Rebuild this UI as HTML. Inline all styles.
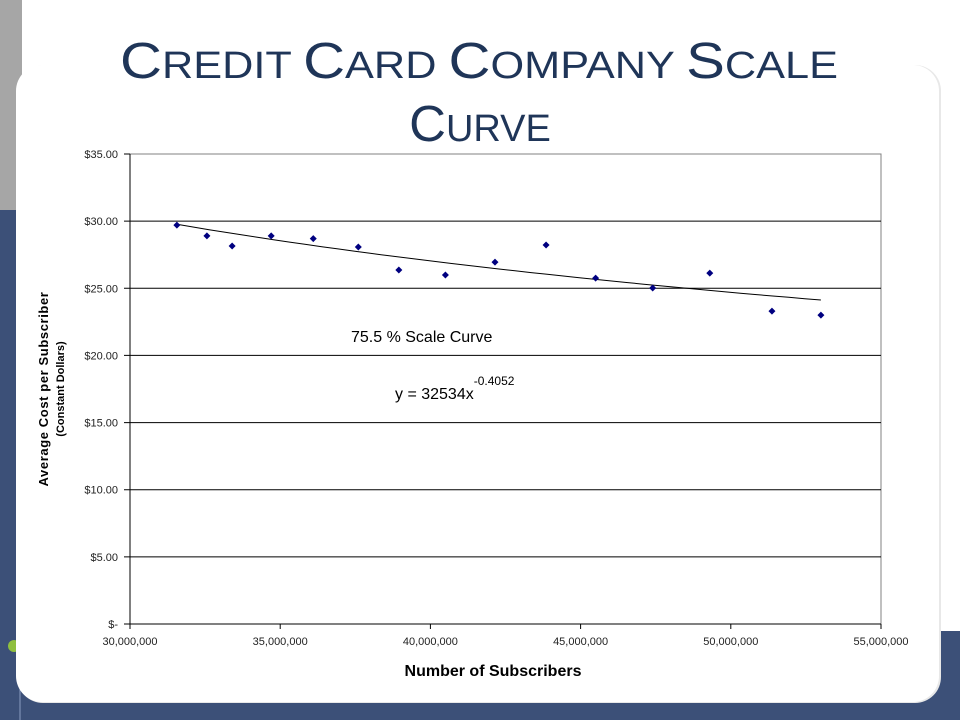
<!DOCTYPE html>
<html><head><meta charset="utf-8"><style>
html,body{margin:0;padding:0;width:960px;height:720px;overflow:hidden;background:#fff;font-family:"Liberation Sans",sans-serif;}
</style></head><body>
<svg width="960" height="720" xmlns="http://www.w3.org/2000/svg">
<rect x="0" y="0" width="22" height="210" fill="#a6a6a6"/>
<rect x="0" y="210" width="40" height="510" fill="#3c5078"/>
<rect x="0" y="631" width="960" height="89" fill="#3c5078"/>
<line x1="20" y1="630" x2="20" y2="720" stroke="#8a9cc0" stroke-width="1"/>
<circle cx="14" cy="646" r="6" fill="#8fbf3f"/>
<rect x="17" y="65" width="924" height="638" rx="26" fill="#e8e8e8"/>
<rect x="16" y="65" width="923" height="637" rx="26" fill="#fff"/>
<g fill="#1f3558" font-family="Liberation Sans, sans-serif" text-anchor="middle">
<text x="479" y="78" font-size="51" textLength="718" lengthAdjust="spacingAndGlyphs">C<tspan font-size="38">REDIT </tspan>C<tspan font-size="38">ARD  </tspan>C<tspan font-size="38">OMPANY </tspan>S<tspan font-size="38">CALE</tspan></text>
<text x="480" y="141" font-size="51">C<tspan font-size="38">URVE</tspan></text>
</g>
<g id="chart"></g>
<text x="351" y="342" font-size="16" fill="#000">75.5 % Scale Curve</text>
<text x="395" y="399" font-size="16" fill="#000">y = 32534x<tspan font-size="12" dy="-14">-0.4052</tspan></text>
<text x="493" y="676" font-size="16" font-weight="bold" text-anchor="middle" fill="#000">Number of Subscribers</text>
<g transform="translate(48,389) rotate(-90)" text-anchor="middle">
<text x="0" y="0" font-size="13" font-weight="bold" letter-spacing="0.6">Average Cost per Subscriber</text>
<text x="0" y="16" font-size="11" font-weight="bold">(Constant Dollars)</text>
</g>
</svg>
<script>
const xVals=[31.56,32.56,33.4,34.7,36.1,37.6,38.95,40.5,42.15,43.85,45.5,47.4,49.3,51.37,53.0];
const yVals=[29.7,28.9,28.15,28.9,28.7,28.07,26.36,25.99,26.95,28.22,25.76,25.02,26.13,23.3,23.0];
const yTicks=[0,5,10,15,20,25,30,35];
const yTickLabels=["$-","$5.00","$10.00","$15.00","$20.00","$25.00","$30.00","$35.00"];
const xTicks=[30,35,40,45,50,55];
const xTickLabels=["30,000,000","35,000,000","40,000,000","45,000,000","50,000,000","55,000,000"];
const coef=32534, expo=-0.4052;
const NS="http://www.w3.org/2000/svg";
const L=130,R=881,T=154,B=624;
const sx=v=>L+(v-30)/(55-30)*(R-L);
const sy=v=>B-v/35*(B-T);
const g=document.getElementById('chart');
function mk(t,a){const e=document.createElementNS(NS,t);for(const k in a)e.setAttribute(k,a[k]);g.appendChild(e);return e;}
const bg=mk('rect',{x:L,y:T,width:R-L,height:B-T,fill:'#fff',stroke:'#808080'});


yTicks.forEach((v,i)=>{
 const gl=mk('line',{x1:L-6,x2:(v===35?L:R),y1:sy(v),y2:sy(v),stroke:'#000'});
 
 
 const t=mk('text',{x:118,y:sy(v)+4,'font-size':11,'text-anchor':'end',fill:'#222'});
 t.textContent=yTickLabels[i];
 
 
});
mk('line',{x1:L,x2:L,y1:T,y2:B,stroke:'#000'});
xTicks.forEach((v,i)=>{
 const tk=mk('line',{x1:sx(v),x2:sx(v),y1:B,y2:B+5,stroke:'#000'});
 
 
 const t=mk('text',{x:sx(v),y:645,'font-size':11,'text-anchor':'middle',fill:'#222'});
 t.textContent=xTickLabels[i];
 
 
});
let d='';
const x0=xVals[0],x1=xVals[xVals.length-1];
for(let i=0;i<=40;i++){const x=x0+(x1-x0)*i/40;const y=coef*Math.pow(x*1e6,expo);d+=(i?'L':'M')+sx(x).toFixed(1)+','+sy(y).toFixed(1);}
const tr=mk('path',{d:d,fill:'none',stroke:'#000','stroke-width':1});


xVals.forEach((x,i)=>{
 const cx=sx(x),cy=sy(yVals[i]);
 const p=mk('polygon',{points:`${cx},${cy-3.5} ${cx+3.5},${cy} ${cx},${cy+3.5} ${cx-3.5},${cy}`,fill:'#000080'});
 
 
});
</script>
</body></html>
